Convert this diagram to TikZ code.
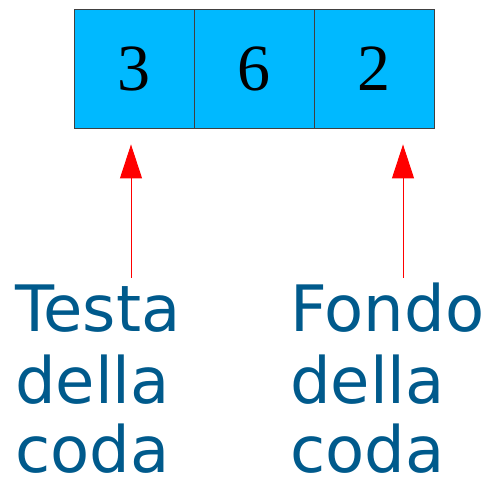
\documentclass[tikz,border=0pt]{standalone}
\usepackage{fontspec}
\setmainfont{Liberation Serif}
\newfontfamily\labelfont{DejaVu Sans}
\usetikzlibrary{arrows.meta}
\definecolor{cellfill}{RGB}{0,185,255}
\definecolor{labelblue}{RGB}{0,90,140}
\tikzset{
  x=1pt,y=1pt,
  cell/.style={draw=black!75, line width=0.9pt, fill=cellfill, minimum width=120pt, minimum height=119pt, inner sep=0pt, font=\fontsize{66}{70}\selectfont},
  lbl/.style={anchor=base west, inner sep=0pt, text=labelblue, font=\labelfont\fontsize{64}{70}\selectfont},
  ptr/.style={draw=red, line width=1pt, -{Triangle[length=34pt,width=22pt,fill=red,color=red]}, shorten >=16pt}
}
\begin{document}
\begin{tikzpicture}
\useasboundingbox (0,0) rectangle (485,-481);
\node[cell] (c1) at (134,-68.5) {3};
\node[cell] (c2) at (254,-68.5) {6};
\node[cell] (c3) at (374,-68.5) {2};
\node[lbl] (t1) at (15,-331) {Testa};
\node[lbl] (t2) at (15,-403) {della};
\node[lbl] (t3) at (15,-472) {coda};
\node[lbl] (f1) at (290,-331) {Fondo};
\node[lbl] (f2) at (290,-403) {della};
\node[lbl] (f3) at (290,-472) {coda};
\coordinate (a1) at (131,-278);
\coordinate (a2) at (403,-278);
\draw[ptr] (a1) -- (a1 |- c1.south);
\draw[ptr] (a2) -- (a2 |- c3.south);
\end{tikzpicture}
\end{document}
